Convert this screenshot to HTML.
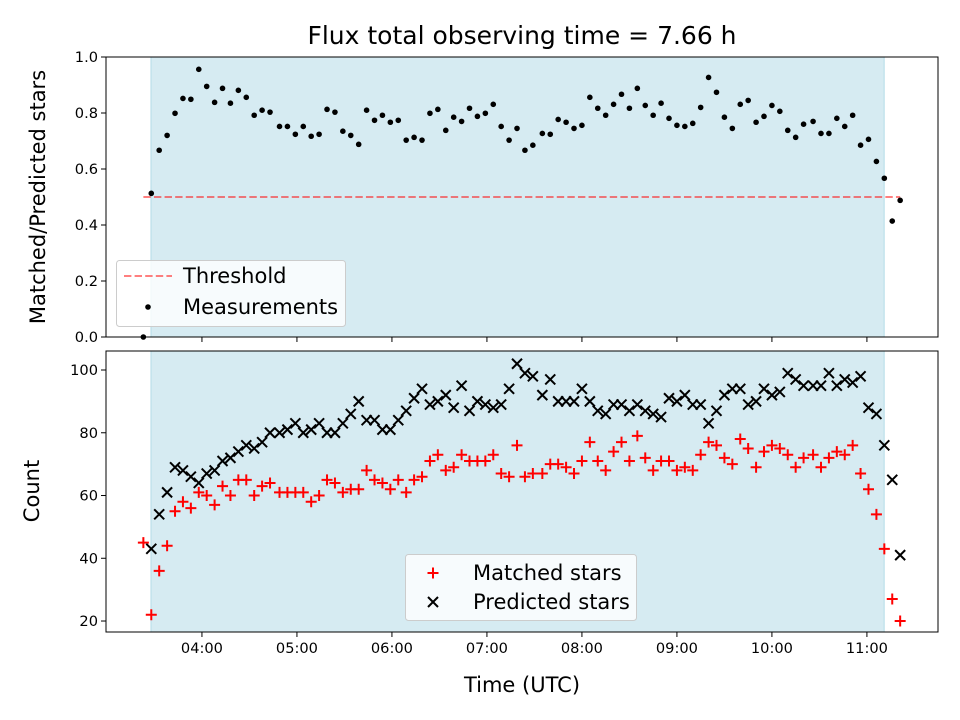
<!DOCTYPE html>
<html><head><meta charset="utf-8"><style>
html,body{margin:0;padding:0;background:#fff;}
svg{display:block;font-family:"DejaVu Sans","Liberation Sans",sans-serif;}
</style></head><body>
<svg id="chart" width="960" height="720" viewBox="0 0 960 720" xmlns="http://www.w3.org/2000/svg"></svg>
<script>
// ---- data ----
const times = [203,208,213,218,223,228,233,238,243,248,253,258,263,268,273,278,283,289,294,299,304,309,314,319,324,329,334,339,344,349,354,359,364,369,374,379,384,389,394,399,404,409,414,419,424,429,434,439,444,449,455,460,465,470,475,480,485,490,495,500,505,510,515,520,525,530,535,540,545,550,555,560,565,570,575,580,585,590,595,600,605,610,615,620,626,631,636,641,646,651,656,661,666,671,676,681];
const ratio = [0.0,0.513,0.667,0.720,0.799,0.852,0.849,0.956,0.895,0.838,0.888,0.835,0.881,0.856,0.792,0.810,0.803,0.752,0.752,0.724,0.752,0.717,0.724,0.813,0.803,0.735,0.720,0.688,0.810,0.774,0.792,0.767,0.774,0.703,0.713,0.703,0.799,0.813,0.738,0.785,0.770,0.817,0.788,0.799,0.831,0.752,0.703,0.745,0.667,0.685,0.727,0.724,0.777,0.767,0.745,0.756,0.856,0.817,0.792,0.831,0.867,0.817,0.888,0.827,0.792,0.835,0.781,0.756,0.752,0.763,0.820,0.927,0.874,0.785,0.745,0.831,0.845,0.767,0.788,0.827,0.806,0.738,0.713,0.760,0.770,0.727,0.727,0.781,0.752,0.792,0.685,0.706,0.627,0.567,0.414,0.488];
const matched = [45,22,36,44,55,58,56,61,60,57,63,60,65,65,60,63,64,61,61,61,61,58,60,65,64,61,62,62,68,65,64,62,65,61,65,66,71,73,68,69,73,71,71,71,73,67,66,76,66,67,67,70,70,69,67,71,77,71,68,74,77,71,79,72,68,71,71,68,69,68,73,77,76,72,70,78,75,69,74,76,75,73,69,72,73,69,72,74,73,76,67,62,54,43,27,20];
const predicted = [null,43,54,61,69,68,66,64,67,68,71,72,74,76,75,77,80,80,81,83,80,81,83,80,80,83,86,90,84,84,81,81,84,87,91,94,89,90,92,88,95,87,90,89,88,89,94,102,99,98,92,97,90,90,90,94,90,87,86,89,89,87,89,87,86,85,91,90,92,89,89,83,87,92,94,94,89,90,94,92,93,99,97,95,95,95,99,95,97,96,98,88,86,76,65,41];
const threshold = 0.5;
const ratioTicks = [0.0,0.2,0.4,0.6,0.8,1.0];
const countTicks = [20,40,60,80,100];
const timeTicks = ["04:00","05:00","06:00","07:00","08:00","09:00","10:00","11:00"];
const spanStart = 207.8, spanEnd = 670.9;

// ---- axes ----
const NS="http://www.w3.org/2000/svg";
const svg=document.getElementById('chart');
const L=106,R=938, T1=57,B1=337, T2=351,B2=632;
const xMin=179.4,xMax=704.9;
const X=m=>L+(m-xMin)/(xMax-xMin)*(R-L);
const Y1=v=>B1-(v-0)/(1-0)*(B1-T1);
const cMin=16.5,cMax=106.06;
const Y2=v=>B2-(v-cMin)/(cMax-cMin)*(B2-T2);
const TICK='font-size:14.6px';
function mk(tag,attrs,parent){const e=document.createElementNS(NS,tag);for(const k in attrs)e.setAttribute(k,attrs[k]);(parent||svg).appendChild(e);return e;}
function parseT(s){const p=s.split(':');return +p[0]*60+ +p[1];}

function panel(top,bot,name){
  const g=mk('g',{});
  
  
  const sp=mk('rect',{x:X(spanStart),y:top,width:X(spanEnd)-X(spanStart),height:bot-top,fill:'rgba(173,216,230,0.5)',stroke:'rgba(173,216,230,0.9)','stroke-width':1},g);
  
  
  return g;
}
function frame(top,bot,name){
  const f=mk('rect',{x:L,y:top,width:R-L,height:bot-top,fill:'none',stroke:'#000','stroke-width':1});
  
  
}

// top panel
const gTop=panel(T1,B1,'ratio-panel');
const th=mk('line',{x1:X(times[0]),x2:X(times[times.length-1]),y1:Y1(threshold),y2:Y1(threshold),stroke:'rgba(255,0,0,0.5)','stroke-width':2,'stroke-dasharray':'7.4,3.2'},gTop);


ratio.forEach((v,i)=>{
  const c=mk('circle',{cx:X(times[i]),cy:Y1(v),r:2.8,fill:'#000'},gTop);
  
  
});
frame(T1,B1,'ratio-axes-frame');
ratioTicks.forEach(t=>{
  const y=Y1(t);
  mk('line',{x1:L-5,x2:L,y1:y,y2:y,stroke:'#000'});
  const tx=mk('text',{x:L-8,y:y+5,'text-anchor':'end',style:TICK});
  tx.textContent=t.toFixed(1);
  
  
});
timeTicks.forEach(s=>{const x=X(parseT(s));mk('line',{x1:x,x2:x,y1:B1,y2:B1+5,stroke:'#000'});});

// bottom panel
const gBot=panel(T2,B2,'count-panel');
matched.forEach((v,i)=>{
  if(v==null)return;
  const x=X(times[i]),y=Y2(v),s=5.5;
  const p=mk('path',{d:`M${x-s},${y}H${x+s}M${x},${y-s}V${y+s}`,stroke:'#f00','stroke-width':2,fill:'none'},gBot);
  
  
});
predicted.forEach((v,i)=>{
  if(v==null)return;
  const x=X(times[i]),y=Y2(v),s=5;
  const p=mk('path',{d:`M${x-s},${y-s}L${x+s},${y+s}M${x-s},${y+s}L${x+s},${y-s}`,stroke:'#000','stroke-width':2,fill:'none'},gBot);
  
  
});
frame(T2,B2,'count-axes-frame');
countTicks.forEach(t=>{
  const y=Y2(t);
  mk('line',{x1:L-5,x2:L,y1:y,y2:y,stroke:'#000'});
  const tx=mk('text',{x:L-8,y:y+5,'text-anchor':'end',style:TICK});
  tx.textContent=t;
  
  
});
timeTicks.forEach(s=>{
  const x=X(parseT(s));
  mk('line',{x1:x,x2:x,y1:B2,y2:B2+5,stroke:'#000'});
  const tx=mk('text',{x:x,y:B2+21,'text-anchor':'middle',style:TICK});
  tx.textContent=s;
  
  
});
</script>
<script>
// static labels & legends
(function(){
const svg=document.getElementById('chart');const NS="http://www.w3.org/2000/svg";
function mk(tag,attrs,parent){const e=document.createElementNS(NS,tag);for(const k in attrs)e.setAttribute(k,attrs[k]);(parent||svg).appendChild(e);return e;}
const LAB='font-size:21px';
let t=mk('text',{x:522,y:44,'text-anchor':'middle',style:'font-size:25px'});t.textContent='Flux total observing time = 7.66 h';


t=mk('text',{x:0,y:0,'text-anchor':'middle',style:LAB,transform:'translate(45,197) rotate(-90)'});t.textContent='Matched/Predicted stars';


t=mk('text',{x:0,y:0,'text-anchor':'middle',style:LAB,transform:'translate(39,491) rotate(-90)'});t.textContent='Count';


t=mk('text',{x:522,y:692,'text-anchor':'middle',style:LAB});t.textContent='Time (UTC)';



// top legend
let g=mk('g',{});


mk('rect',{x:116.5,y:260.5,width:229,height:66,rx:3,fill:'rgba(255,255,255,0.8)',stroke:'#ccc'},g);
mk('line',{x1:124,x2:172,y1:276,y2:276,stroke:'rgba(255,0,0,0.5)','stroke-width':2,'stroke-dasharray':'7.4,3.2'},g);
t=mk('text',{x:183,y:283,style:LAB},g);t.textContent='Threshold';


mk('circle',{cx:148,cy:307,r:2.8,fill:'#000'},g);
t=mk('text',{x:183,y:314,style:LAB},g);t.textContent='Measurements';



// bottom legend
g=mk('g',{});


mk('rect',{x:405.5,y:554.5,width:231,height:66,rx:3,fill:'rgba(255,255,255,0.8)',stroke:'#ccc'},g);
mk('path',{d:'M427.5,573H438.5M433,567.5V578.5',stroke:'#f00','stroke-width':2},g);
t=mk('text',{x:473,y:580,style:LAB},g);t.textContent='Matched stars';


mk('path',{d:'M428,597L438,607M428,607L438,597',stroke:'#000','stroke-width':2},g);
t=mk('text',{x:473,y:609,style:LAB},g);t.textContent='Predicted stars';


})();
</script>
</body></html>
